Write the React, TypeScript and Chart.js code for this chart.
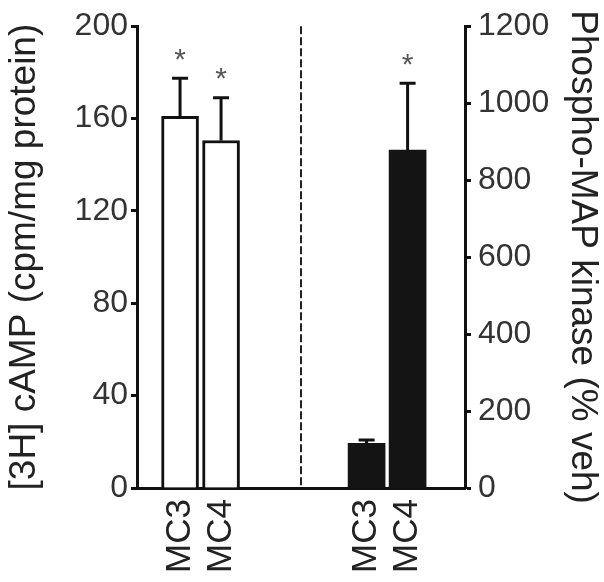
import React, { useEffect, useRef } from "react";
import { Chart, registerables } from "chart.js";

Chart.register(...registerables);

// ---- data ----
const leftLabels = ["MC3", "MC4"];
const rightLabels = ["MC3", "MC4"];
const leftPositions = [1.05, 2.05];
const rightPositions = [5.6, 6.6];
const campValues = [161, 150.5];
const campErrTop = [177.5, 169];
const mapkValues = [116, 878];
const mapkErrTop = [125, 1052];
const campSignificant = [true, true];
const mapkSignificant = [false, true];
const campTicks = [0, 40, 80, 120, 160, 200];
const mapkTicks = [0, 200, 400, 600, 800, 1000, 1200];
const dividerPosition = 4;
const xRange = [0, 8];
const leftTitle = "[3H] cAMP (cpm/mg protein)";
const rightTitle = "Phospho-MAP kinase (% veh)";

const FONT = "'Liberation Sans', Arial, Helvetica, sans-serif";
const INK = "#111";

const allPositions = [...leftPositions, ...rightPositions];
const allLabels = [...leftLabels, ...rightLabels];

const dividerPlugin = {
  id: "divider",
  beforeDatasetsDraw(chart: any) {
    const { ctx, chartArea } = chart;
    const x = chart.scales.x.getPixelForValue(dividerPosition);
    ctx.save();
    ctx.strokeStyle = "#222";
    ctx.lineWidth = 2;
    ctx.setLineDash([8, 3]);
    ctx.beginPath();
    ctx.moveTo(x, chartArea.top);
    ctx.lineTo(x, chartArea.bottom);
    ctx.stroke();
    ctx.restore();
  },
};

const errorPlugin = {
  id: "errorbars",
  afterDatasetsDraw(chart: any) {
    const ctx = chart.ctx;
    const groups = [
      { meta: chart.getDatasetMeta(0), scale: chart.scales.y, err: campErrTop, sig: campSignificant },
      { meta: chart.getDatasetMeta(1), scale: chart.scales.y1, err: mapkErrTop, sig: mapkSignificant },
    ];
    ctx.save();
    groups.forEach((g) => {
      g.meta.data.forEach((bar: any, i: number) => {
        const x = bar.x;
        const yTop = bar.y;
        const ye = g.scale.getPixelForValue(g.err[i]);
        ctx.strokeStyle = INK;
        ctx.lineWidth = 3;
        ctx.setLineDash([]);
        ctx.beginPath();
        ctx.moveTo(x, yTop);
        ctx.lineTo(x, ye);
        ctx.moveTo(x - 8, ye);
        ctx.lineTo(x + 8, ye);
        ctx.stroke();
        if (g.sig[i]) {
          ctx.font = `30px ${FONT}`;
          ctx.fillStyle = "#555";
          ctx.textAlign = "center";
          ctx.textBaseline = "alphabetic";
          const m = ctx.measureText("*");
          const cy = ye - 24;
          const by = cy + (m.actualBoundingBoxAscent - m.actualBoundingBoxDescent) / 2;
          ctx.fillText("*", x, by);
        }
      });
    });
    ctx.restore();
  },
};

export default function App() {
  const canvasRef = useRef<HTMLCanvasElement | null>(null);

  useEffect(() => {
    document.body.style.margin = "0";
    document.body.style.overflow = "hidden";
    const canvas = canvasRef.current;
    if (!canvas) return;

    const chart = new Chart(canvas, {
      type: "bar",
      data: {
        datasets: [
          {
            label: "cAMP",
            data: campValues.map((v, i) => ({ x: leftPositions[i], y: v })),
            xAxisID: "x",
            yAxisID: "y",
            backgroundColor: "#ffffff",
            borderColor: INK,
            borderWidth: 3,
            barThickness: 37,
            grouped: false,
          } as any,
          {
            label: "MAPK",
            data: mapkValues.map((v, i) => ({ x: rightPositions[i], y: v })),
            xAxisID: "x",
            yAxisID: "y1",
            backgroundColor: "#141414",
            borderWidth: 0,
            barThickness: 37,
            grouped: false,
          } as any,
        ],
      },
      options: {
        responsive: false,
        animation: false,
        layout: { padding: { top: 22, bottom: 0, left: 0, right: 0 } },
        plugins: {
          legend: { display: false },
          tooltip: { enabled: false },
        },
        scales: {
          x: {
            type: "linear",
            min: xRange[0],
            max: xRange[1],
            offset: false,
            grid: { display: false, drawTicks: false, offset: false },
            border: { display: true, color: INK, width: 3 },
            afterBuildTicks: (scale: any) => {
              scale.ticks = allPositions.map((v) => ({ value: v }));
            },
            afterFit: (scale: any) => {
              scale.height = 94;
            },
            ticks: {
              autoSkip: false,
              minRotation: 90,
              maxRotation: 90,
              padding: 11,
              color: "#222",
              font: { family: FONT, size: 35 },
              callback: (_v: any, i: number) => allLabels[i],
            },
          } as any,
          y: {
            type: "linear",
            position: "left",
            min: campTicks[0],
            max: campTicks[campTicks.length - 1],
            afterBuildTicks: (scale: any) => {
              scale.ticks = campTicks.map((v) => ({ value: v }));
            },
            afterFit: (scale: any) => {
              scale.width = 137;
            },
            grid: {
              display: true,
              drawOnChartArea: false,
              drawTicks: true,
              tickLength: 6,
              tickWidth: 3,
              tickColor: INK,
            },
            border: { display: true, color: INK, width: 3 },
            ticks: {
              padding: 3,
              color: "#333",
              font: { family: FONT, size: 32 },
              callback: (v: any) => String(v),
            },
            title: {
              display: true,
              text: leftTitle,
              color: "#222",
              font: { family: FONT, size: 37 },
              padding: { top: 3, bottom: 0 },
            },
          } as any,
          y1: {
            type: "linear",
            position: "right",
            min: mapkTicks[0],
            max: mapkTicks[mapkTicks.length - 1],
            afterBuildTicks: (scale: any) => {
              scale.ticks = mapkTicks.map((v) => ({ value: v }));
            },
            afterFit: (scale: any) => {
              scale.width = 139;
            },
            grid: {
              display: true,
              drawOnChartArea: false,
              drawTicks: true,
              tickLength: 6,
              tickWidth: 3,
              tickColor: INK,
            },
            border: { display: true, color: INK, width: 3 },
            ticks: {
              padding: 7,
              color: "#333",
              font: { family: FONT, size: 32 },
              callback: (v: any) => String(v),
            },
            title: {
              display: true,
              text: rightTitle,
              color: "#222",
              font: { family: FONT, size: 37 },
              padding: { top: 0, bottom: 0 },
            },
          } as any,
        },
      },
      plugins: [dividerPlugin, errorPlugin],
    } as any);

    return () => chart.destroy();
  }, []);

  return (
    <div style={{ width: 604, height: 582, background: "#fff" }}>
      <canvas ref={canvasRef} width={604} height={582} />
    </div>
  );
}
